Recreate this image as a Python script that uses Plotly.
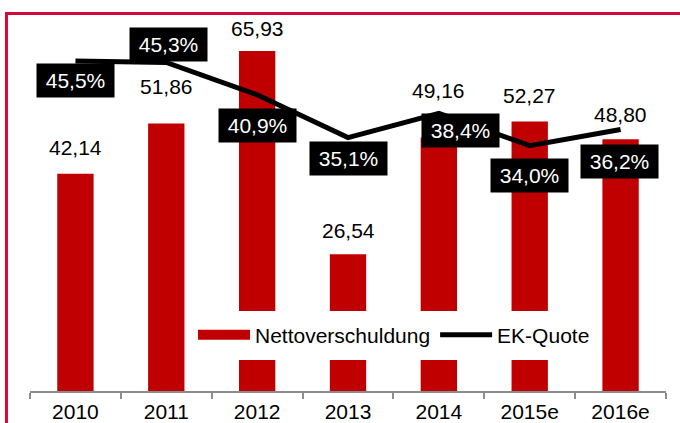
import plotly.graph_objects as go

# data
years = ['2010', '2011', '2012', '2013', '2014', '2015e', '2016e']
nettoverschuldung = [42.14, 51.86, 65.93, 26.54, 49.16, 52.27, 48.80]
ek_quote = [45.5, 45.3, 40.9, 35.1, 38.4, 34.0, 36.2]

RED = '#C00000'
FRAME = '#D6083B'
FONT = 'Liberation Sans, Arial, sans-serif'

# label offsets (px), picked by eye from the original
bar_label_dy = [26, 37, 22, 24, 47, 26, 25]
line_label_dx = [0, 2, 0, 0, 22, 0, -1]
line_label_dy = [-20, 18, -31, -21, -17, -30, -32]

fig = go.Figure()
fig.add_trace(go.Bar(x=years, y=nettoverschuldung, name='Nettoverschuldung',
                     marker=dict(color=RED, line=dict(width=0)), showlegend=False))
# legend entry for the bars drawn as a wide red stroke
fig.add_trace(go.Scatter(x=[None], y=[None], mode='lines', name='Nettoverschuldung',
                         line=dict(color=RED, width=10)))
fig.add_trace(go.Scatter(x=years, y=ek_quote, mode='lines', name='EK-Quote', yaxis='y2',
                         line=dict(color='black', width=5)))

# numeric-looking year strings would be read as category indices, so use the index
for i, yr in enumerate(years):
    v = nettoverschuldung[i]
    fig.add_annotation(x=i, y=v, xref='x', yref='y', text=f'{v:.2f}'.replace('.', ','),
                       showarrow=False, yanchor='middle', yshift=bar_label_dy[i],
                       font=dict(size=21, color='black', family=FONT))
    q = ek_quote[i]
    fig.add_annotation(x=i, y=q, xref='x', yref='y2', text=f'{q:.1f}%'.replace('.', ','),
                       showarrow=False, xshift=line_label_dx[i], yshift=line_label_dy[i],
                       bgcolor='black', width=69, height=25, borderpad=4,
                       font=dict(size=21, color='white', family=FONT))

# red frame around the chart
fig.add_shape(type='rect', xref='paper', yref='paper', x0=-0.037, x1=1.3, y0=-0.4, y1=1.046,
              line=dict(color=FRAME, width=3), fillcolor='rgba(0,0,0,0)', layer='below')

fig.update_layout(
    width=680, height=423,
    margin=dict(l=30, r=14, t=30, b=32, autoexpand=False),
    paper_bgcolor='white', plot_bgcolor='white',
    font=dict(family=FONT, size=21, color='black'),
    bargap=0.6,
    showlegend=True,
    legend=dict(orientation='h', x=0.25, y=0.155, xanchor='left', yanchor='middle',
                bgcolor='white', bordercolor='white', borderwidth=4,
                itemwidth=52, font=dict(size=21, color='black', family=FONT)),
    xaxis=dict(type='category', range=[-0.5, 6.5], showline=True, linecolor='#8c8c8c',
               linewidth=2, ticks='outside', ticklen=6, tickwidth=2, tickcolor='#8c8c8c',
               tickson='boundaries', showgrid=False, ticklabelstandoff=1, automargin=False,
               tickfont=dict(size=21, color='black', family=FONT)),
    yaxis=dict(range=[0, 70], visible=False, showgrid=False),
    yaxis2=dict(range=[0.7, 49.7], overlaying='y', visible=False, showgrid=False),
)

# drop the default body margin so the figure sits at the window's corner
fig.write_html('out.html', config={'displayModeBar': False},
               post_script="document.body.style.margin='0';")
